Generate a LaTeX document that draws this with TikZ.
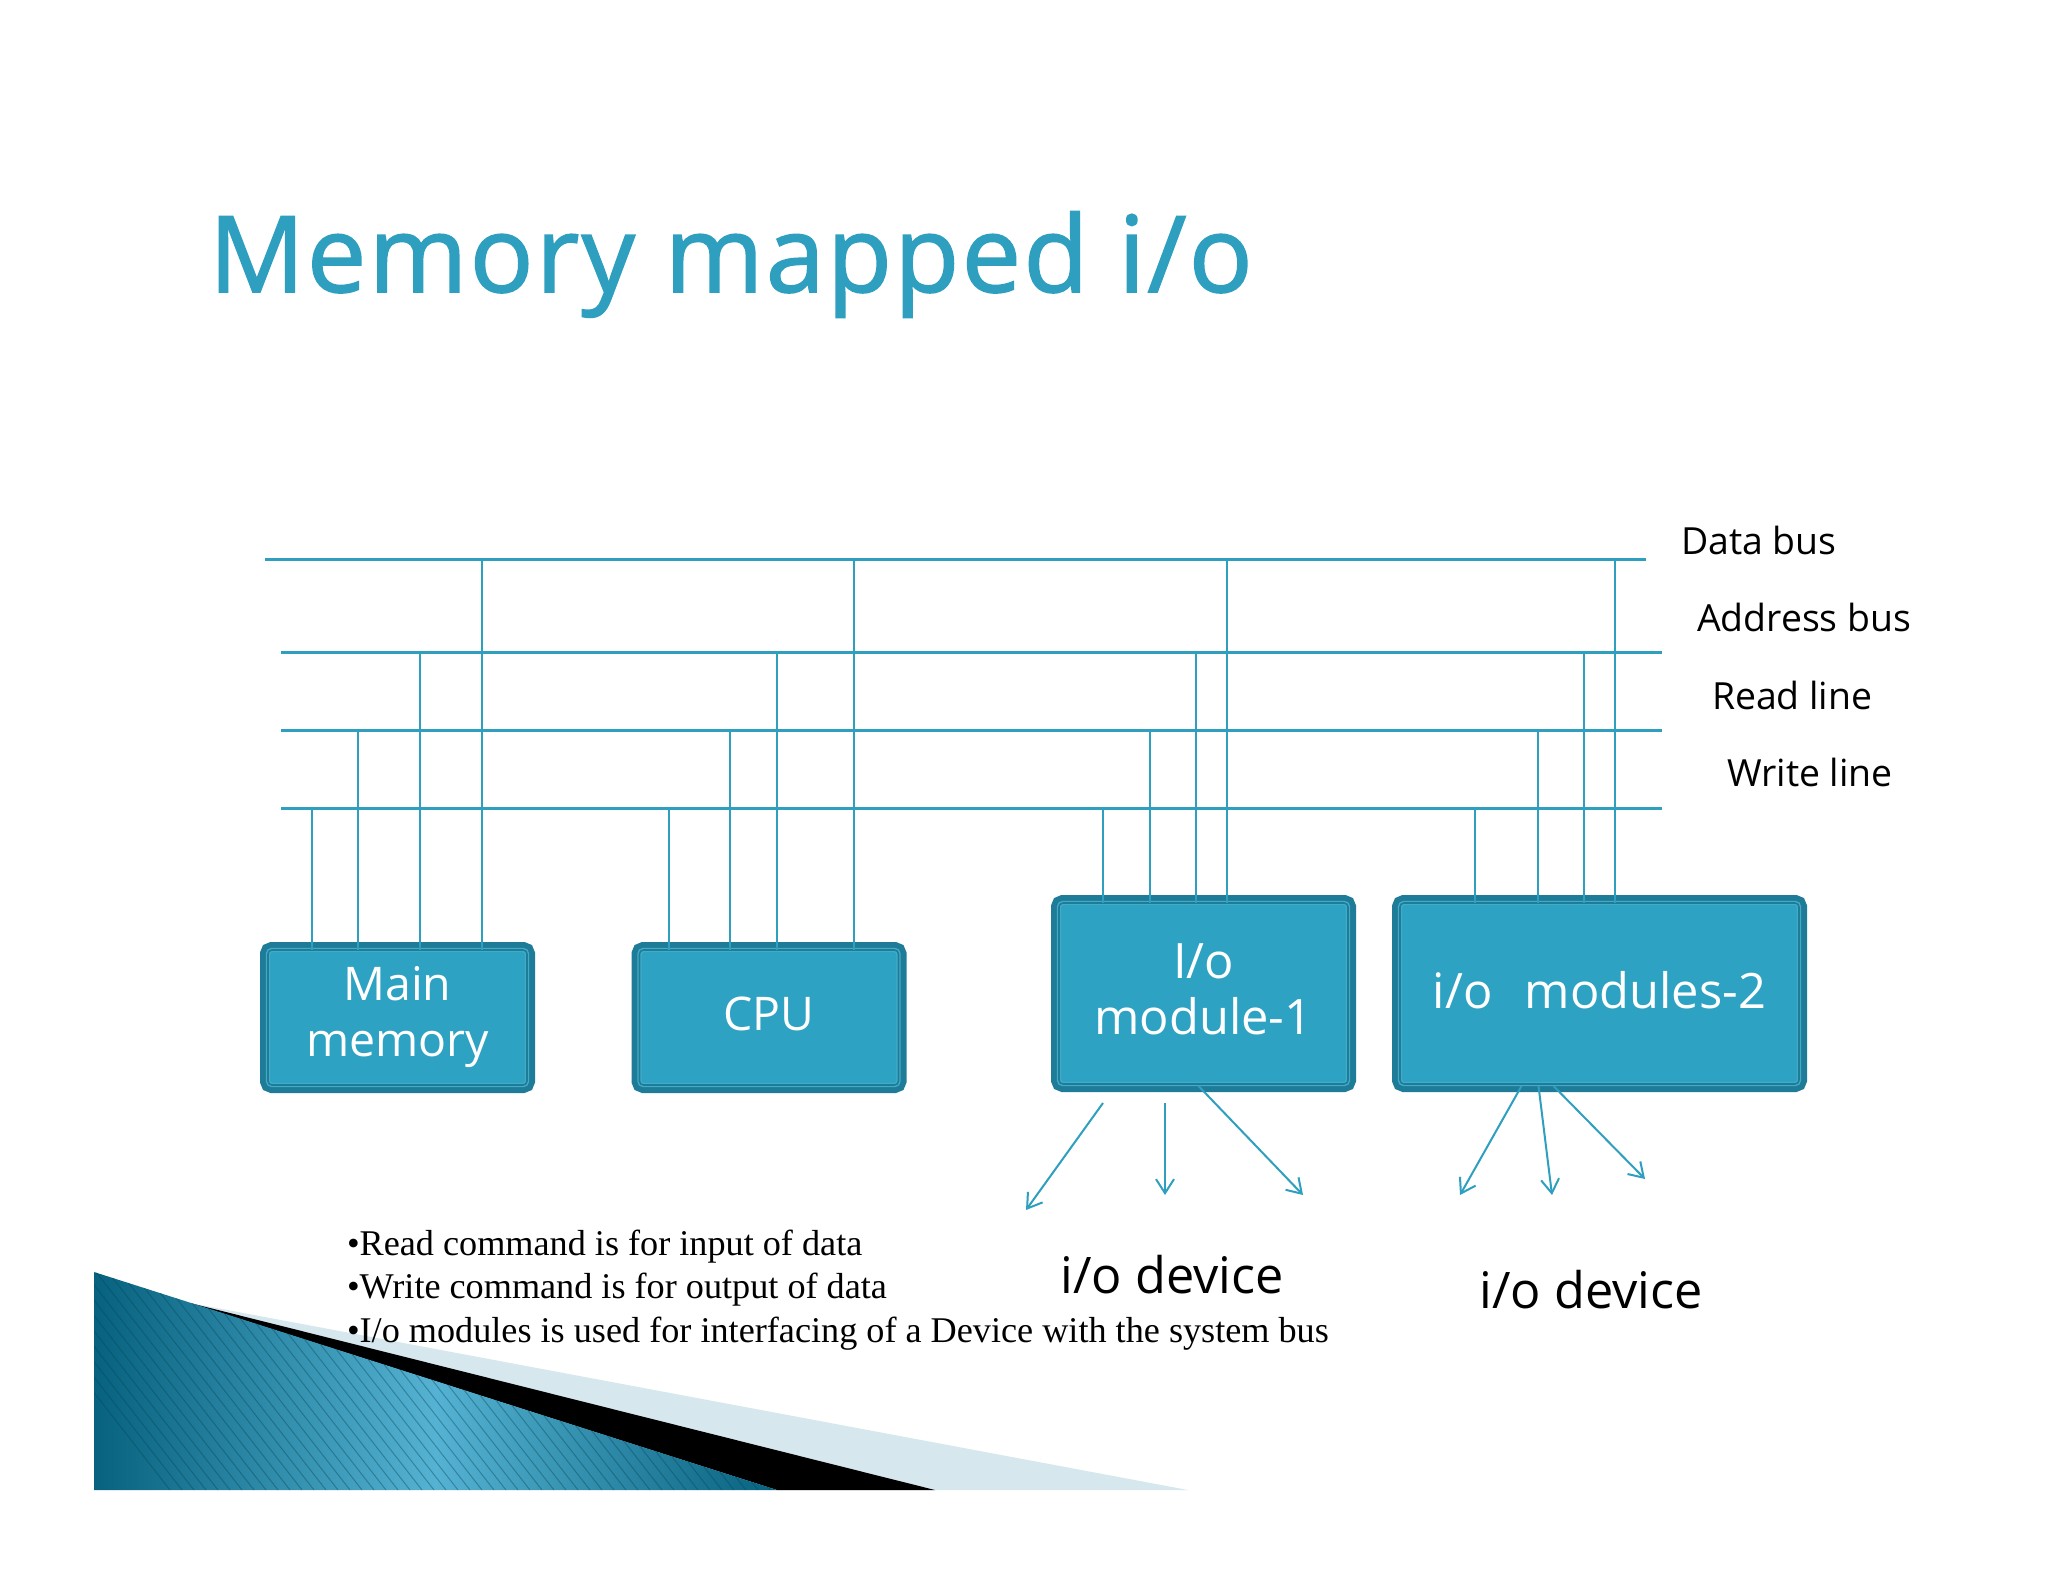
\documentclass[tikz,border=0pt]{standalone}
\usepackage{fontspec}
\setmainfont{Open Sans}
\newfontfamily\bulletfont{Liberation Serif}
\newfontfamily\titlefont[FakeBold=1.5,LetterSpace=2.2]{Open Sans}
\usetikzlibrary{arrows.meta, calc}
\definecolor{busblue}{HTML}{2E9FBF}
\definecolor{boxfill}{HTML}{2DA2C2}
\definecolor{boxdark}{HTML}{1F7C98}
\definecolor{titleblue}{HTML}{2F9FC0}
\definecolor{wedgelight}{HTML}{D6E8EE}
\definecolor{wedgedark}{HTML}{07627F}
\definecolor{wedgemid}{HTML}{55B2D2}
\begin{document}
\begin{tikzpicture}[x=0.5pt, y=0.5pt, >={Straight Barb[length=7pt,width=9pt]}, line width=1pt,
		BusLine/.style={draw=busblue, line width=1.1pt},
		IoArrow/.style={->, draw=busblue, line width=1pt},
		Module/.style={
            preaction={draw=boxdark, line width=8pt},
            postaction={draw=boxdark, line width=0.8pt},
            fill=boxfill,
            draw=boxfill!90!white,
            line width=2.2pt,
            rounded corners=2pt,
            text=white,
            font=\fontsize{23.2}{28}\selectfont,
            align=center,
            inner sep=0pt,
            outer sep=0pt
		},
		ModuleWide/.style={Module, font=\fontsize{24.4}{28}\selectfont, text depth=4pt},
		BusLabel/.style={anchor=base west, inner sep=0pt, font=\fontsize{18.7}{22}\selectfont},
		DeviceLabel/.style={anchor=base, inner sep=0pt, font=\fontsize{25.2}{29}\selectfont}]
		\useasboundingbox (0,0) rectangle (2048,-1582);
		\fill[white] (0,0) rectangle (2048,-1582);
		% Corner wedge
		\fill[wedgelight] (190,-1303) -- (1188,-1490) -- (777,-1490) -- cycle;
		\fill[black] (190,-1303) -- (935,-1490) -- (777,-1490) -- cycle;
		\begin{scope}
			\clip (94,-1272) -- (777,-1490) -- (94,-1490) -- cycle;
			\shade[left color=wedgedark, right color=wedgedark, middle color=wedgemid] (94,-1272) rectangle (777,-1490);
			\foreach \x in {0,12,...,1000}
				\draw[wedgedark!70!black, opacity=0.4, line width=0.5pt] (\x,-1272) -- ++(170,-218);
		\end{scope}
		% Title
		\node[anchor=base west, inner sep=0pt, text=titleblue, font=\titlefont\fontsize{53}{60}\selectfont] (title) at (208,-292) {Memory mapped i/o};
		% Bus ends
		\coordinate (dataL) at (265,-559.5);
		\coordinate (dataR) at (1646,-559.5);
		\coordinate (addrL) at (281,-652.5);
		\coordinate (addrR) at (1662,-652.5);
		\coordinate (readL) at (281,-730.5);
		\coordinate (readR) at (1662,-730.5);
		\coordinate (writeL) at (281,-808.5);
		\coordinate (writeR) at (1662,-808.5);
		\foreach \bus in {data,addr,read,write}
			\draw[BusLine] (\bus L) -- (\bus R);
		\node[BusLabel] (dataLabel) at (1680,-554) {Data bus};
		\node[BusLabel] (addrLabel) at (1696,-631) {Address bus};
		\node[BusLabel] (readLabel) at (1711,-709) {Read line};
		\node[BusLabel] (writeLabel) at (1726,-786) {Write line};
		% Boxes
		\node[Module, minimum width=129.5pt, minimum height=67.5pt] (mainmem) at (397.5,-1017.5) {Main\\memory};
		\node[Module, minimum width=129.5pt, minimum height=67.5pt, text depth=4pt] (cpu) at (769,-1017.5) {CPU};
		\node[ModuleWide, minimum width=144.5pt, minimum height=90.5pt] (modA) at (1203.5,-993.5) {I/o\\module-1};
		\node[ModuleWide, minimum width=199.5pt, minimum height=90.5pt] (modB) at (1599.5,-993.5) {i/o\hspace{0.4em} modules-2};
		% Drops from the buses
		\foreach \x/\bus/\target in {312/write/mainmem, 358/read/mainmem, 420/addr/mainmem, 482/data/mainmem,
				669/write/cpu, 730/read/cpu, 777/addr/cpu, 854/data/cpu,
				1103/write/modA, 1150/read/modA, 1196/addr/modA, 1227/data/modA,
				1475/write/modB, 1538/read/modB, 1584/addr/modB, 1615/data/modB}
			\draw[BusLine] (\x,0 |- \bus L) -- (\x,0 |- \target.north);
		% Arrows to the devices
		\coordinate (startA) at (1103,-1103);
		\coordinate (startB) at (1165,-1103);
		\coordinate (endA) at (1026,-1210);
		\coordinate (endB) at (1165,-1195);
		\coordinate (endC) at (1303,-1195);
		\coordinate (endD) at (1460,-1195);
		\coordinate (endE) at (1552,-1195);
		\coordinate (endF) at (1645,-1179);
		\draw[IoArrow] (startA) -- (endA);
		\draw[IoArrow] (startB) -- (endB);
		\draw[IoArrow] ([shift={(-5,-2)}]modA.south) -- (endC);
		\draw[IoArrow] ([shift={(-78,-2)}]modB.south) -- (endD);
		\draw[IoArrow] ([shift={(-61,-2)}]modB.south) -- (endE);
		\draw[IoArrow] ([shift={(-46,-2)}]modB.south) -- (endF);
		\node[DeviceLabel] (deviceA) at (1172,-1293) {i/o device};
		\node[DeviceLabel] (deviceB) at (1591,-1308) {i/o device};
		% Notes
		\node[anchor=base west, inner sep=0pt, align=left, font=\bulletfont\fontsize{18.1}{21.75}\selectfont] (notes) at (346,-1342)
			{•Read command is for input of data\\•Write command is for output of data\\•I/o modules is used for interfacing of a Device with the system bus};
	\end{tikzpicture}
\end{document}
